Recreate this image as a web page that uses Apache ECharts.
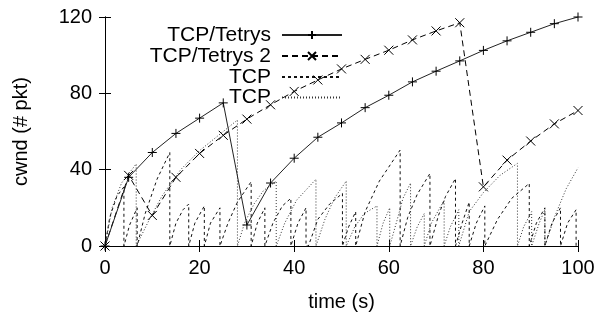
<!DOCTYPE html>
<html>
<head>
<meta charset="utf-8">
<script src="https://cdn.jsdelivr.net/npm/echarts@6/dist/echarts.min.js"></script>
<style>
  html, body { margin: 0; padding: 0; background: #fff; }
  #main { width: 600px; height: 313px; }
</style>
</head>
<body>
<div id="main"></div>
<script>
 // 数据：时间轴与各曲线取值
 var xTicks = [0, 20, 40, 60, 80, 100];
 var yTicks = [0, 40, 80, 120];
 var tetrysTime = [0, 5, 10, 15, 20, 25, 30, 35, 40, 45, 50, 55, 60, 65, 70, 75, 80, 85, 90, 95, 100];
 var tetrys1 = [0, 36, 49, 59, 67, 75, 11, 33, 46, 57, 64.5, 72.5, 79, 86, 91.6, 97, 102.5, 107.5, 112, 116.5, 120];
 var tetrys2 = [0, 37, 16, 36, 48.5, 58, 66.5, 74, 81, 87, 92.8, 97.8, 102.6, 108, 112.7, 117, 31, 45, 55, 64, 71];

 // TCP（短虚线）锯齿
 var tcpDashed = [
   [0, 0], [1, 15], [2.5, 26], [4, 31], [4, 0],
   [4.3, 0], [5.2, 11], [6.8, 20], [6.8, 0],
   [7, 0], [8.5, 17], [11, 35], [13.7, 49], [13.7, 0],
   [14, 0], [15, 12], [16.5, 19], [17.7, 22], [17.7, 0],
   [18, 0], [19, 12], [21, 21], [21, 0],
   [21.2, 0], [22.3, 12], [24.3, 20], [24.3, 0],
   [24.5, 0], [26, 12], [28, 23], [30.9, 33.7], [30.9, 0],
   [31.2, 0], [32.2, 12], [33.8, 20], [33.8, 0],
   [34, 0], [35.5, 12], [37.5, 21], [39.3, 25], [39.3, 0],
   [39.6, 0], [40.8, 12], [42.5, 20], [42.5, 0],
   [43, 0], [45, 14], [47.5, 22], [50.2, 27.6], [50.2, 0],
   [50.5, 0], [51.5, 10], [53, 18], [53, 0],
   [53.3, 0], [55, 18], [58, 34], [62.4, 50.3], [62.4, 0],
   [62.7, 0], [64, 15], [66, 27], [68.7, 38], [68.7, 0],
   [69, 0], [70.5, 16], [72, 26], [74.1, 35.4], [74.1, 0],
   [74.4, 0], [75.5, 12], [77, 23], [77, 0],
   [77.3, 0], [78.5, 12], [80.3, 21], [80.3, 0],
   [80.6, 0], [83, 14], [86, 25], [89.7, 32.8], [89.7, 0],
   [90, 0], [91.2, 12], [93, 20], [93, 0],
   [93.3, 0], [94.5, 12], [96.3, 20], [96.3, 0],
   [96.6, 0], [97.8, 12], [99.6, 19], [99.6, 0]
 ];

 // TCP（点线）锯齿
 var tcpDotted = [
   [0, 0], [1.5, 20], [3.5, 33], [6.6, 43], [6.6, 0],
   [7, 0], [9, 12], [12, 26], [16, 40], [20, 50], [24, 58], [28, 66], [28, 0],
   [28.3, 0], [29.5, 12], [31.5, 22], [33.5, 29], [36.2, 34], [36.2, 0],
   [36.5, 0], [38, 12], [40.5, 24], [44.6, 35], [44.6, 0],
   [45, 0], [46.5, 14], [48.5, 25], [51, 34], [51, 0],
   [51.3, 0], [52.8, 10], [54.8, 17], [57.5, 21], [57.5, 0],
   [57.8, 0], [58.8, 12], [60.2, 20], [60.2, 0],
   [60.5, 0], [61.8, 14], [63, 25], [64.6, 33], [64.6, 0],
   [65, 0], [66, 10], [67.5, 17], [67.5, 0],
   [67.8, 0], [69, 12], [71.7, 24], [71.7, 0],
   [72, 0], [73, 10], [74.8, 19], [74.8, 0],
   [75, 0], [77, 18], [80, 28], [83.5, 37], [87.2, 43.3], [87.2, 0],
   [87.5, 0], [88.5, 10], [90.2, 18], [90.2, 0],
   [90.5, 0], [91.8, 12], [93, 19], [93, 0],
   [93.3, 0], [95, 15], [97.5, 30], [100, 41]
 ];

 var FONT = 'Liberation Sans, Arial, Helvetica, sans-serif';
 var plusPath = 'path://M5,0L5,10M0,5L10,5';
 var crossPath = 'path://M0,0L10,10M10,0L0,10';

 function zip(t, v) {
   var out = [];
   for (var i = 0; i < t.length; i++) {
     out.push([t[i], v[i]]);
   }
   return out;
 }

 function legendFor(name, top) {
   return {
     data: [name],
     orient: 'vertical',
     right: 257,
     top: top,
     align: 'right',
     padding: 0,
     itemWidth: 60,
     itemHeight: 10,
     selectedMode: false,
     formatter: function(n) { return n.trim(); },
     textStyle: { fontSize: 21, color: '#000', fontFamily: FONT, lineHeight: 21, padding: [0, 6, 0, 0] }
   };
 }

 var axisCommon = {
   axisLine: { lineStyle: { color: '#000', width: 1 } },
   axisTick: { inside: true, length: 6, lineStyle: { color: '#000' } },
   splitLine: { show: false }
 };

 var myChart = echarts.init(document.getElementById('main'), null, { renderer: 'canvas' });
 var option = {
   animation: false,
   backgroundColor: '#fff',
   grid: { left: 105, right: 22, top: 17, bottom: 67, outerBoundsMode: 'none', containLabel: false },
   legend: [
     legendFor('TCP/Tetrys', 24.5),
     legendFor('TCP/Tetrys 2', 45.5),
     legendFor('TCP', 66.5),
     legendFor('TCP ', 87)
   ],
   xAxis: [{
     type: 'value', min: 0, max: 100, interval: 20, position: 'bottom',
     name: 'time (s)', nameLocation: 'middle', nameGap: 46,
     nameTextStyle: { fontSize: 20, color: '#000', fontFamily: FONT },
     axisLine: axisCommon.axisLine, axisTick: axisCommon.axisTick, splitLine: axisCommon.splitLine,
     axisLabel: { fontSize: 20, color: '#000', fontFamily: FONT, margin: 12 }
   }, {
     type: 'value', min: 0, max: 100, interval: 20, position: 'top',
     axisLine: axisCommon.axisLine, axisTick: axisCommon.axisTick, splitLine: axisCommon.splitLine,
     axisLabel: { show: false }
   }],
   yAxis: [{
     type: 'value', min: 0, max: 120, interval: 40, position: 'left',
     name: 'cwnd (# pkt)', nameLocation: 'middle', nameGap: 74,
     nameTextStyle: { fontSize: 20, color: '#000', fontFamily: FONT },
     axisLine: axisCommon.axisLine, axisTick: axisCommon.axisTick, splitLine: axisCommon.splitLine,
     axisLabel: { fontSize: 20, color: '#000', fontFamily: FONT, margin: 13 }
   }, {
     type: 'value', min: 0, max: 120, interval: 40, position: 'right',
     axisLine: axisCommon.axisLine, axisTick: axisCommon.axisTick, splitLine: axisCommon.splitLine,
     axisLabel: { show: false }
   }],
   series: [{
     name: 'TCP/Tetrys',
     type: 'line',
     data: zip(tetrysTime, tetrys1),
     symbol: plusPath,
     symbolSize: 9,
     showAllSymbol: true,
     lineStyle: { color: '#222', width: 1, type: 'solid' },
     itemStyle: { color: 'none', borderColor: '#000', borderWidth: 1 },
     z: 5
   }, {
     name: 'TCP/Tetrys 2',
     type: 'line',
     data: zip(tetrysTime, tetrys2),
     symbol: crossPath,
     symbolSize: 9,
     showAllSymbol: true,
     lineStyle: { color: '#000', width: 1, type: [6, 4] },
     itemStyle: { color: 'none', borderColor: '#000', borderWidth: 1 },
     z: 4
   }, {
     name: 'TCP',
     type: 'line',
     data: tcpDashed,
     showSymbol: false,
     symbol: 'circle',
     symbolSize: 0,
     lineStyle: { color: '#111', width: 1, type: [3, 3] },
     itemStyle: { color: 'rgba(0,0,0,0)', borderWidth: 0 },
     z: 3
   }, {
     name: 'TCP ',
     type: 'line',
     data: tcpDotted,
     showSymbol: false,
     symbol: 'circle',
     symbolSize: 0,
     lineStyle: { color: '#333', width: 1, type: [1, 2] },
     itemStyle: { color: 'rgba(0,0,0,0)', borderWidth: 0 },
     z: 2
   }]
 };
 myChart.setOption(option);
</script>
</body>
</html>
